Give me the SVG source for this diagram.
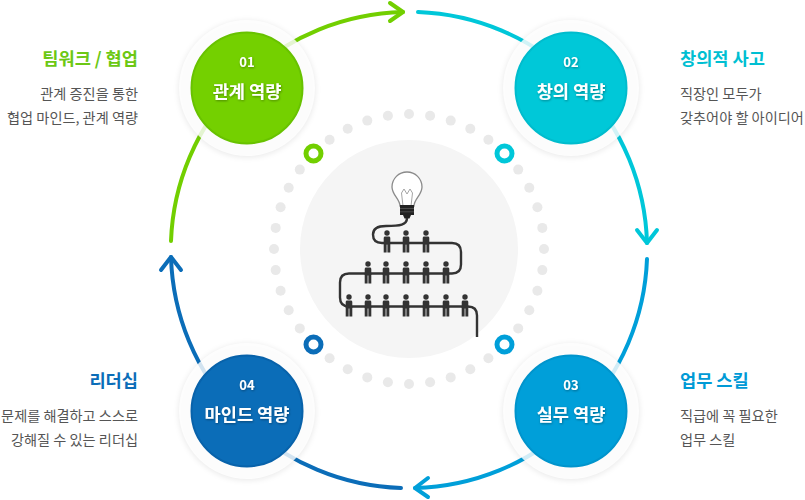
<svg xmlns="http://www.w3.org/2000/svg" xmlns:xlink="http://www.w3.org/1999/xlink" width="805" height="500" viewBox="0 0 805 500">
<style>
.dot{fill:#e9e9e9}
.arc{fill:none;stroke-width:4;stroke-linecap:round;stroke-linejoin:round}
.halo{fill:#fff;fill-opacity:0.82}
.hs{fill:#000;fill-opacity:0.07}
.num{font-family:"Noto Sans CJK KR","Noto Sans",sans-serif;font-weight:700;font-size:13px;fill:#fff;text-anchor:middle}
.ttl{font-family:"Noto Sans CJK KR",sans-serif;font-weight:700;font-size:17.6px;fill:#fff;text-anchor:middle}
.h{font-family:"Noto Sans CJK KR",sans-serif;font-weight:700;font-size:17.6px}
.d{font-family:"Noto Sans CJK KR",sans-serif;font-size:14.2px;fill:#555}
.r{text-anchor:end}
.ring{fill:none;stroke-width:5}
.p{fill:#333}
</style>
<defs>
<filter id="blur" x="-20%" y="-20%" width="140%" height="140%"><feGaussianBlur stdDeviation="2.5"/></filter>
<filter id="ts" x="-20%" y="-50%" width="140%" height="200%"><feDropShadow dx="0.6" dy="1" stdDeviation="0.8" flood-color="#000" flood-opacity="0.35"/></filter>
<g id="person">
<circle cx="0" cy="0" r="2.7"/>
<rect x="-3.3" y="3.6" width="6.6" height="8" rx="1.4"/>
<rect x="-3.3" y="10" width="2.9" height="9.5"/>
<rect x="0.4" y="10" width="2.9" height="9.5"/>
</g>
</defs>
<rect width="805" height="500" fill="#fff"/>

<g id="center">
<circle cx="409" cy="249" r="109" fill="#f5f5f5"/>
<g id="dots">
<circle class="dot" cx="544" cy="249" r="5"/>
<circle class="dot" cx="542.3" cy="270.1" r="5"/><circle class="dot" cx="542.3" cy="227.9" r="5"/>
<circle class="dot" cx="537.4" cy="290.7" r="5"/><circle class="dot" cx="537.4" cy="207.3" r="5"/>
<circle class="dot" cx="529.3" cy="310.3" r="5"/><circle class="dot" cx="529.3" cy="187.7" r="5"/>
<circle class="dot" cx="518.2" cy="328.4" r="5"/><circle class="dot" cx="518.2" cy="169.6" r="5"/>
<circle class="dot" cx="488.4" cy="358.2" r="5"/><circle class="dot" cx="488.4" cy="139.8" r="5"/>
<circle class="dot" cx="470.3" cy="369.3" r="5"/><circle class="dot" cx="470.3" cy="128.7" r="5"/>
<circle class="dot" cx="450.7" cy="377.4" r="5"/><circle class="dot" cx="450.7" cy="120.6" r="5"/>
<circle class="dot" cx="430.1" cy="382.3" r="5"/><circle class="dot" cx="430.1" cy="115.7" r="5"/>
<circle class="dot" cx="409" cy="384" r="5"/><circle class="dot" cx="409" cy="114" r="5"/>
<circle class="dot" cx="274" cy="249" r="5"/>
<circle class="dot" cx="275.7" cy="270.1" r="5"/><circle class="dot" cx="275.7" cy="227.9" r="5"/>
<circle class="dot" cx="280.6" cy="290.7" r="5"/><circle class="dot" cx="280.6" cy="207.3" r="5"/>
<circle class="dot" cx="288.7" cy="310.3" r="5"/><circle class="dot" cx="288.7" cy="187.7" r="5"/>
<circle class="dot" cx="299.8" cy="328.4" r="5"/><circle class="dot" cx="299.8" cy="169.6" r="5"/>
<circle class="dot" cx="329.6" cy="358.2" r="5"/><circle class="dot" cx="329.6" cy="139.8" r="5"/>
<circle class="dot" cx="347.7" cy="369.3" r="5"/><circle class="dot" cx="347.7" cy="128.7" r="5"/>
<circle class="dot" cx="367.3" cy="377.4" r="5"/><circle class="dot" cx="367.3" cy="120.6" r="5"/>
<circle class="dot" cx="387.9" cy="382.3" r="5"/><circle class="dot" cx="387.9" cy="115.7" r="5"/>
</g>
<circle class="ring" cx="313.5" cy="153.5" r="7.5" stroke="#72cf00"/>
<circle class="ring" cx="504.5" cy="153.5" r="7.5" stroke="#00c7d9"/>
<circle class="ring" cx="504.5" cy="344.5" r="7.5" stroke="#009fd9"/>
<circle class="ring" cx="313.5" cy="344.5" r="7.5" stroke="#0b6db8"/>
<g id="illustration">
<path d="M400,206 C400,199 392,195 392,187 A15,15 0 1 1 422,187 C422,195 414,199 414,206 Z" fill="#fff" stroke="#8a8a8a" stroke-width="1.3"/>
<path d="M403,206 L401.5,193 L404,189 L407,194 L410,189 L412.5,193 L411,206" fill="none" stroke="#9a9a9a" stroke-width="0.9"/>
<rect x="400" y="205" width="14" height="10" fill="#222"/>
<path d="M400,208.5 H414 M400,211.8 H414" stroke="#555" stroke-width="0.8"/>
<path d="M403,215 L411,215 L409.5,218.5 L404.5,218.5 Z" fill="#222"/>
<path d="M407,218 C407,225 400,226 386,226 Q373,226 373,234.5 Q373,243 382,243 L452,243 Q461,243 461,252 L461,264.5 Q461,273.5 452,273.5 L349,273.5 Q340,273.5 340,282.5 L340,297.5 Q340,306.5 349,306.5 L468,306.5 Q477,306.5 477,315.5 L477,337" fill="none" stroke="#333" stroke-width="2.4"/>
<g class="p">
<use xlink:href="#person" x="387" y="233"/>
<use xlink:href="#person" x="406" y="233"/>
<use xlink:href="#person" x="426" y="233"/>
<use xlink:href="#person" x="368" y="264"/>
<use xlink:href="#person" x="386" y="264"/>
<use xlink:href="#person" x="406" y="264"/>
<use xlink:href="#person" x="426" y="264"/>
<use xlink:href="#person" x="446" y="264"/>
<use xlink:href="#person" x="349" y="297"/>
<use xlink:href="#person" x="368" y="297"/>
<use xlink:href="#person" x="386" y="297"/>
<use xlink:href="#person" x="406" y="297"/>
<use xlink:href="#person" x="426" y="297"/>
<use xlink:href="#person" x="446" y="297"/>
<use xlink:href="#person" x="465" y="297"/>
</g>
</g>
</g>

<g id="connectors">
<path class="arc" stroke="#72cf00" d="M171,241 A238,238 0 0 1 403,12"/>
<path class="arc" stroke="#72cf00" d="M390,3 L403,12 L390,21"/>
<path class="arc" stroke="#00c7d9" d="M418,12 A238,238 0 0 1 647,243"/>
<path class="arc" stroke="#00c7d9" d="M637,230 L647,243 L657,230"/>
<path class="arc" stroke="#009fd9" d="M647,259 A238,238 0 0 1 415,488"/>
<path class="arc" stroke="#009fd9" d="M428,478 L415,488 L428,497"/>
<path class="arc" stroke="#0b6db8" d="M401,488 A238,238 0 0 1 171,257"/>
<path class="arc" stroke="#0b6db8" d="M161,270 L171,257 L181,270"/>
</g>

<g id="node01">
<circle class="hs" cx="247" cy="89" r="69" filter="url(#blur)"/>
<circle class="halo" cx="247" cy="88" r="68"/>
<circle cx="247" cy="88" r="55.5" fill="#74d000" stroke="#68c200" stroke-width="2"/>
<text class="num" x="247" y="67" filter="url(#ts)">01</text>
<text class="ttl" x="247" y="98" filter="url(#ts)">관계 역량</text>
</g>
<g id="node02">
<circle class="hs" cx="571" cy="89" r="69" filter="url(#blur)"/>
<circle class="halo" cx="571" cy="88" r="68"/>
<circle cx="571" cy="88" r="55.5" fill="#00c8d8" stroke="#00bccd" stroke-width="2"/>
<text class="num" x="571" y="67" filter="url(#ts)">02</text>
<text class="ttl" x="571" y="98" filter="url(#ts)">창의 역량</text>
</g>
<g id="node03">
<circle class="hs" cx="571" cy="412" r="69" filter="url(#blur)"/>
<circle class="halo" cx="571" cy="411" r="68"/>
<circle cx="571" cy="411" r="55.5" fill="#009fd9" stroke="#0094cc" stroke-width="2"/>
<text class="num" x="571" y="390" filter="url(#ts)">03</text>
<text class="ttl" x="571" y="421" filter="url(#ts)">실무 역량</text>
</g>
<g id="node04">
<circle class="hs" cx="247" cy="412" r="69" filter="url(#blur)"/>
<circle class="halo" cx="247" cy="411" r="68"/>
<circle cx="247" cy="411" r="55.5" fill="#0b6db8" stroke="#0862aa" stroke-width="2"/>
<text class="num" x="247" y="390" filter="url(#ts)">04</text>
<text class="ttl" x="247" y="421" filter="url(#ts)">마인드 역량</text>
</g>

<g id="label01">
<text class="h r" x="138" y="65" fill="#6cc814">팀워크 / 협업</text>
<text class="d r" x="138" y="99">관계 증진을 통한</text>
<text class="d r" x="138" y="123">협업 마인드, 관계 역량</text>
</g>
<g id="label02">
<text class="h" x="680" y="65" fill="#00bfd2">창의적 사고</text>
<text class="d" x="680" y="99">직장인 모두가</text>
<text class="d" x="680" y="123">갖추어야 할 아이디어</text>
</g>
<g id="label03">
<text class="h" x="680" y="387" fill="#009ad6">업무 스킬</text>
<text class="d" x="680" y="421">직급에 꼭 필요한</text>
<text class="d" x="680" y="445">업무 스킬</text>
</g>
<g id="label04">
<text class="h r" x="138" y="387" fill="#0b6db8">리더십</text>
<text class="d r" x="138" y="421">문제를 해결하고 스스로</text>
<text class="d r" x="138" y="445">강해질 수 있는 리더십</text>
</g>
</svg>
